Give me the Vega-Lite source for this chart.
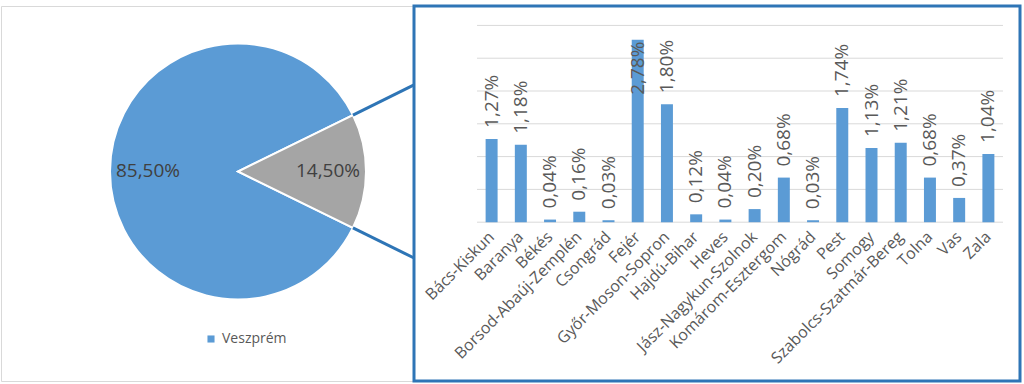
{
  "$schema": "https://vega.github.io/schema/vega-lite/v6.json",
  "background": "white",
  "padding": {"left": 0, "top": 4, "right": 0, "bottom": 0},
  "spacing": 0,
  "bounds": "flush",
  "config": {
    "font": "Open Sans",
    "view": {"stroke": null},
    "locale": {"number": {"decimal": ",", "thousands": " ", "grouping": [3], "currency": ["", " Ft"]}}
  },
  "datasets": {
    "pie": [
      {"megye": "Veszprém", "arany": 0.855},
      {"megye": "Egyéb megyék", "arany": 0.145}
    ],
    "bars": [
      {"megye": "Bács-Kiskun", "arany": 0.0127},
      {"megye": "Baranya", "arany": 0.0118},
      {"megye": "Békés", "arany": 0.0004},
      {"megye": "Borsod-Abaúj-Zemplén", "arany": 0.0016},
      {"megye": "Csongrád", "arany": 0.0003},
      {"megye": "Fejér", "arany": 0.0278},
      {"megye": "Győr-Moson-Sopron", "arany": 0.0180},
      {"megye": "Hajdú-Bihar", "arany": 0.0012},
      {"megye": "Heves", "arany": 0.0004},
      {"megye": "Jász-Nagykun-Szolnok", "arany": 0.0020},
      {"megye": "Komárom-Esztergom", "arany": 0.0068},
      {"megye": "Nógrád", "arany": 0.0003},
      {"megye": "Pest", "arany": 0.0174},
      {"megye": "Somogy", "arany": 0.0113},
      {"megye": "Szabolcs-Szatmár-Bereg", "arany": 0.0121},
      {"megye": "Tolna", "arany": 0.0068},
      {"megye": "Vas", "arany": 0.0037},
      {"megye": "Zala", "arany": 0.0104}
    ],
    "grid": [{"g": 0}, {"g": 0.005}, {"g": 0.01}, {"g": 0.015}, {"g": 0.02}, {"g": 0.025}, {"g": 0.03}]
  },
  "hconcat": [
    {
      "width": 413,
      "height": 375,
      "view": {"stroke": "#D9D9D9", "strokeWidth": 1},
      "data": {"name": "pie"},
      "layer": [
        {
          "mark": {"type": "arc", "radius": 128, "stroke": "white", "strokeWidth": 2},
          "encoding": {
            "x": {"datum": 0, "type": "quantitative", "scale": {"domain": [-1.8516, 1.375], "nice": false, "zero": false}, "axis": null},
            "y": {"datum": 0, "type": "quantitative", "scale": {"domain": [-1.637, 1.293], "nice": false, "zero": false}, "axis": null},
            "theta": {"field": "arany", "type": "quantitative", "stack": true, "scale": {"range": [1.1153, 7.3985]}},
            "order": {"field": "megye", "type": "nominal", "sort": "ascending"},
            "color": {
              "field": "megye", "type": "nominal",
              "scale": {"domain": ["Egyéb megyék", "Veszprém"], "range": ["#A5A5A5", "#5B9BD5"]},
              "legend": {"values": ["Veszprém"], "title": null, "orient": "none", "legendX": 203, "legendY": 326, "symbolType": "square", "symbolSize": 50, "symbolStrokeWidth": 0, "labelFontSize": 14, "labelColor": "#595959", "labelOffset": 4, "padding": 0}
            }
          }
        },
        {
          "mark": {"type": "text", "radius": 90, "fontSize": 19, "color": "#404040"},
          "encoding": {
            "x": {"datum": 0, "type": "quantitative"},
            "y": {"datum": 0, "type": "quantitative"},
            "theta": {"field": "arany", "type": "quantitative", "stack": true},
            "order": {"field": "megye", "type": "nominal", "sort": "ascending"},
            "text": {"field": "arany", "type": "quantitative", "format": ".2%"}
          }
        },
        {
          "data": {"values": [{}]},
          "mark": {"type": "rule", "color": "#2E75B6", "strokeWidth": 3},
          "encoding": {
            "x": {"datum": 0.898, "type": "quantitative"},
            "y": {"datum": 0.44, "type": "quantitative"},
            "x2": {"datum": 1.375},
            "y2": {"datum": 0.676}
          }
        },
        {
          "data": {"values": [{}]},
          "mark": {"type": "rule", "color": "#2E75B6", "strokeWidth": 3},
          "encoding": {
            "x": {"datum": 0.898, "type": "quantitative"},
            "y": {"datum": -0.44, "type": "quantitative"},
            "x2": {"datum": 1.375},
            "y2": {"datum": -0.676}
          }
        }
      ]
    },
    {
      "width": 606,
      "height": 375,
      "view": {"stroke": "#2E75B6", "strokeWidth": 3, "fill": "white"},
      "layer": [
        {
          "data": {"name": "grid"},
          "mark": {"type": "rule", "color": "#D9D9D9", "strokeWidth": 1},
          "encoding": {
            "y": {"field": "g", "type": "quantitative", "scale": {"domain": [-0.02421, 0.03296], "nice": false, "zero": false}, "axis": null},
            "x": {"datum": "Bács-Kiskun", "type": "nominal", "bandPosition": -0.718},
            "x2": {"datum": "Zala", "bandPosition": 1.718}
          }
        },
        {
          "data": {"name": "bars"},
          "mark": {"type": "bar", "color": "#5B9BD5"},
          "encoding": {
            "x": {
              "field": "megye", "type": "nominal", "sort": null,
              "scale": {
                "domain": ["Bács-Kiskun", "Baranya", "Békés", "Borsod-Abaúj-Zemplén", "Csongrád", "Fejér", "Győr-Moson-Sopron", "Hajdú-Bihar", "Heves", "Jász-Nagykun-Szolnok", "Komárom-Esztergom", "Nógrád", "Pest", "Somogy", "Szabolcs-Szatmár-Bereg", "Tolna", "Vas", "Zala"],
                "range": [63, 589],
                "paddingInner": 0.59, "paddingOuter": 0.295, "align": 0.5, "round": false
              },
              "axis": {"title": null, "orient": "bottom", "offset": -159, "labelAngle": -45, "labelAlign": "right", "labelBaseline": "middle", "labelPadding": 12, "labelFontSize": 16, "labelColor": "#595959", "labelLimit": 400, "labelOverlap": false, "domain": false, "ticks": false, "grid": false}
            },
            "y": {"field": "arany", "type": "quantitative", "axis": null},
            "y2": {"datum": 0}
          }
        },
        {
          "data": {"name": "bars"},
          "transform": [{"filter": "datum.megye !== 'Fejér'"}],
          "mark": {"type": "text", "angle": 270, "align": "left", "baseline": "middle", "dx": 11, "fontSize": 19, "color": "#595959"},
          "encoding": {
            "x": {"field": "megye", "type": "nominal"},
            "y": {"field": "arany", "type": "quantitative"},
            "text": {"field": "arany", "type": "quantitative", "format": ".2%"}
          }
        },
        {
          "data": {"name": "bars"},
          "transform": [{"filter": "datum.megye === 'Fejér'"}],
          "mark": {"type": "text", "angle": 270, "align": "left", "baseline": "middle", "dx": -55, "fontSize": 19, "color": "#595959"},
          "encoding": {
            "x": {"field": "megye", "type": "nominal"},
            "y": {"field": "arany", "type": "quantitative"},
            "text": {"field": "arany", "type": "quantitative", "format": ".2%"}
          }
        }
      ]
    }
  ]
}
